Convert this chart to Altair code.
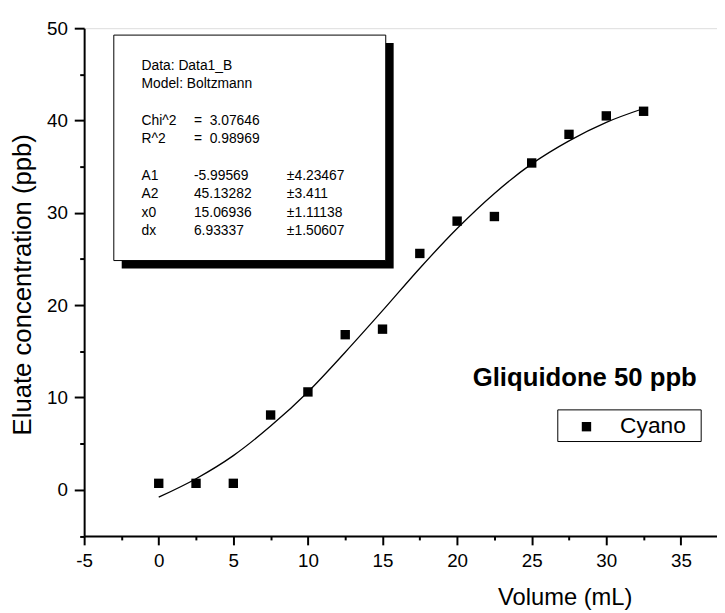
import altair as alt
import pandas as pd

# ---- data ----
volume = [0, 2.5, 5, 7.5, 10, 12.5, 15, 17.5, 20, 22.5, 25, 27.5, 30, 32.5]
eluate = [0.7, 0.7, 0.7, 8.1, 10.6, 16.8, 17.4, 25.6, 29.1, 29.6, 35.4, 38.5, 40.5, 41.0]
fit_volume = [0, 2.5, 5, 7.5, 10, 12.5, 15, 17.5, 20, 22.5, 25, 27.5, 30, 32.5]
fit_eluate = [-0.8, 1.2, 3.7, 6.9, 10.6, 14.9, 19.4, 24.0, 28.3, 32.1, 35.3, 37.8, 39.8, 41.3]

x_ticks = [-5, -2.5, 0, 2.5, 5, 7.5, 10, 12.5, 15, 17.5, 20, 22.5, 25, 27.5, 30, 32.5, 35]
y_ticks = [-5, 0, 5, 10, 15, 20, 25, 30, 35, 40, 45, 50]

box_col1 = ["Data: Data1_B", "Model: Boltzmann", "Chi^2", "R^2", "A1", "A2", "x0", "dx"]
box_col2 = ["", "", "=\u00a0\u00a03.07646", "=\u00a0\u00a00.98969", "-5.99569", "45.13282", "15.06936", "6.93337"]
box_col3 = ["", "", "", "", "\u00b14.23467", "\u00b13.411", "\u00b11.11138", "\u00b11.50607"]

title_text = "Gliquidone 50 ppb"
legend_label = "Cyano"

# ---- layout (pixels, relative to plot area) ----
W, H = 640, 513.5
FONT = "Liberation Sans"
box_cols_x = [58, 111, 205]
box_rows_y = [38, 56.6, 93.8, 112.4, 149.6, 168.2, 186.8, 205.4]

pts = pd.DataFrame({"x": volume, "y": eluate})
fit = pd.DataFrame({"x": fit_volume, "y": fit_eluate})

x_axis = alt.Axis(
    values=x_ticks, title="Volume (mL)", grid=False,
    labelExpr="datum.value % 5 === 0 ? '' + datum.value : ''",
    tickSize={"condition": {"test": "datum.value % 5 === 0", "value": 9}, "value": 4},
    tickWidth=2, domainWidth=2, domainColor="black", tickColor="black",
    labelColor="black", labelFont=FONT, labelFontSize=19, labelPadding=7,
    labelFlush=False, labelOverlap=False,
    titleFont=FONT, titleFontSize=24, titleFontWeight="normal", titleColor="black",
    titleX=486, titleY=69.5, titleBaseline="alphabetic", titleAlign="center",
)
y_axis = alt.Axis(
    values=y_ticks, title="Eluate concentration (ppb)", grid=False,
    labelExpr="datum.value % 10 === 0 ? '' + datum.value : ''",
    tickSize={"condition": {"test": "datum.value % 10 === 0", "value": 10}, "value": 4.5},
    tickWidth=2, domainWidth=2, domainColor="black", tickColor="black",
    labelColor="black", labelFont=FONT, labelFontSize=19, labelPadding=7,
    labelFlush=False, labelOverlap=False,
    titleFont=FONT, titleFontSize=26, titleFontWeight="normal", titleColor="black",
    titleAngle=270, titleX=-54, titleY=259, titleBaseline="alphabetic", titleAlign="center",
)

xenc = alt.X("x:Q", scale=alt.Scale(domain=[-5, 37.42], nice=False, zero=False), axis=x_axis)
yenc = alt.Y("y:Q", scale=alt.Scale(domain=[-5, 50], nice=False, zero=False), axis=y_axis)

curve = alt.Chart(fit).mark_line(color="black", strokeWidth=1.3, interpolate="monotone").encode(x=xenc, y=yenc)
points = alt.Chart(pts).mark_square(color="black", size=90, opacity=1, filled=True).encode(x=xenc, y=yenc)

one = pd.DataFrame({"k": [0]})
layers = [curve, points]

# annotation box with shadow
layers.append(alt.Chart(one).mark_rect(fill="black").encode(
    x=alt.value(38), x2=alt.value(313), y=alt.value(15), y2=alt.value(243)))
layers.append(alt.Chart(one).mark_rect(fill="white", stroke="black", strokeWidth=1).encode(
    x=alt.value(30), x2=alt.value(305), y=alt.value(7), y2=alt.value(235)))

for cx, col in zip(box_cols_x, [box_col1, box_col2, box_col3]):
    for ry, s in zip(box_rows_y, col):
        if not s:
            continue
        layers.append(alt.Chart(pd.DataFrame({"t": [s]})).mark_text(
            font=FONT, fontSize=14, align="left", baseline="middle", color="black"
        ).encode(text="t:N", x=alt.value(cx), y=alt.value(ry)))

# title text
layers.append(alt.Chart(pd.DataFrame({"t": [title_text]})).mark_text(
    font=FONT, fontSize=26, fontWeight="bold", align="left", baseline="alphabetic", color="black"
).encode(text="t:N", x=alt.value(393), y=alt.value(362)))

# legend
layers.append(alt.Chart(one).mark_rect(fill="white", stroke="black", strokeWidth=1).encode(
    x=alt.value(479), x2=alt.value(624), y=alt.value(386), y2=alt.value(418)))
layers.append(alt.Chart(one).mark_square(color="black", size=90, opacity=1, filled=True).encode(
    x=alt.value(508), y=alt.value(403)))
layers.append(alt.Chart(pd.DataFrame({"t": [legend_label]})).mark_text(
    font=FONT, fontSize=23, align="left", baseline="middle", color="black"
).encode(text="t:N", x=alt.value(542), y=alt.value(402)))

chart = alt.layer(*layers).properties(
    width=W, height=H,
    autosize=alt.AutoSizeParams(type="none"),
    padding={"left": 77, "top": 17, "right": 0, "bottom": 74},
).configure_view(strokeWidth=0).configure(background="white")

chart.save("out.html", embed_options={"renderer": "svg", "actions": False})
